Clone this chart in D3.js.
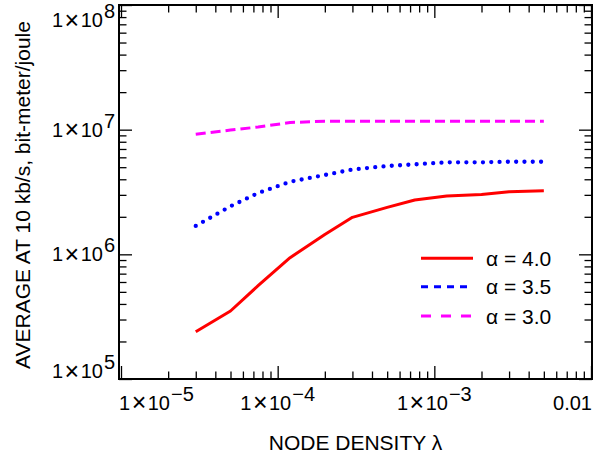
<!DOCTYPE html>
<html>
<head>
<meta charset="utf-8">
<script src="https://cdn.jsdelivr.net/npm/d3@7"></script>
<style>
  body { margin: 0; background: #fff; }
  svg text { font-family: "Liberation Sans", Arial, sans-serif; fill: #000; }
</style>
</head>
<body>
<div id="chart"></div>
<script>
/*  *****  DATA  *****  */

// node density (x) shared by all three curves
var lambda = [3e-5, 5e-5, 7.5e-5, 1.2e-4, 2e-4, 3e-4, 5e-4, 7.5e-4, 1.2e-3, 2e-3, 3e-3, 5e-3];

// average at 10 kb/s, bit-meter/joule
var alpha40 = [2.39e5, 3.51e5, 5.6e5, 9.4e5, 1.44e6, 1.98e6, 2.38e6, 2.73e6, 2.94e6, 3.02e6, 3.18e6, 3.24e6];
var alpha35 = [1.69e6, 2.43e6, 3.10e6, 3.82e6, 4.33e6, 4.79e6, 5.11e6, 5.27e6, 5.47e6, 5.47e6, 5.53e6, 5.53e6];
var alpha30 = [9.18e6, 9.93e6, 1.05e7, 1.14e7, 1.17e7, 1.17e7, 1.17e7, 1.17e7, 1.17e7, 1.17e7, 1.17e7, 1.17e7];

var seriesNames = ["α = 4.0", "α = 3.5", "α = 3.0"];

// tick labels, "^" marks the superscript
var xTickValues = [1e-5, 1e-4, 1e-3, 1e-2];
var xTickLabels = ["1×10^−5", "1×10^−4", "1×10^−3", "0.01"];
var yTickValues = [1e5, 1e6, 1e7, 1e8];
var yTickLabels = ["1×10^5", "1×10^6", "1×10^7", "1×10^8"];

/*  *****  SETUP  *****  */

var W = 606, H = 457;
var frame = { left: 119, right: 592, top: 5, bottom: 379 };

var svg = d3.select("#chart").append("svg")
    .attr("width", W)
    .attr("height", H);

var xScale = d3.scaleLog().domain([1e-5, 1e-2]).range([121, 591]);
var yScale = d3.scaleLog().domain([1e5, 1e8]).range([frame.bottom, frame.top]);

// minor ticks 2..9 inside every decade
function minorTicks(domain) {
  var out = [];
  for (var d = domain[0]; d < domain[1] * 0.99; d *= 10) {
    for (var k = 2; k <= 9; k++) out.push(k * d);
  }
  return out;
}
var xMinor = minorTicks(xScale.domain());
var yMinor = minorTicks(yScale.domain());

/*  *****  AXES (inward ticks on all four sides)  *****  */

var majorLen = 13, minorLen = 7.5;

function styleAxis(g) {
  g.select(".domain").remove();
  g.selectAll(".tick line").attr("stroke", "#000").attr("stroke-width", 1.3);
  g.selectAll(".tick text").remove();
}

[[xTickValues, majorLen], [xMinor, minorLen]].forEach(function(t) {
  svg.append("g")
    .attr("transform", "translate(0," + frame.bottom + ")")
    .call(d3.axisBottom(xScale).tickValues(t[0]).tickSize(-t[1]).tickFormat(""))
    .call(styleAxis);
  svg.append("g")
    .attr("transform", "translate(0," + frame.top + ")")
    .call(d3.axisTop(xScale).tickValues(t[0]).tickSize(-t[1]).tickFormat(""))
    .call(styleAxis);
});

[[yTickValues, majorLen], [yMinor, minorLen]].forEach(function(t) {
  svg.append("g")
    .attr("transform", "translate(" + frame.left + ",0)")
    .call(d3.axisLeft(yScale).tickValues(t[0]).tickSize(-t[1]).tickFormat(""))
    .call(styleAxis);
  svg.append("g")
    .attr("transform", "translate(" + frame.right + ",0)")
    .call(d3.axisRight(yScale).tickValues(t[0]).tickSize(-t[1]).tickFormat(""))
    .call(styleAxis);
});

// frame
svg.append("rect")
  .attr("x", frame.left)
  .attr("y", frame.top)
  .attr("width", frame.right - frame.left)
  .attr("height", frame.bottom - frame.top)
  .attr("fill", "none")
  .attr("stroke", "#000")
  .attr("stroke-width", 2);

// write "1×10^-5" style labels: a roomier "×" and a real superscript
function writeLabel(text, label) {
  var parts = label.split("^");
  var base = parts[0].split("×");
  text.append("tspan").text(base[0]);
  if (base.length > 1) {
    text.append("tspan")
      .attr("dx", 1.5)
      .attr("dy", 1.5)
      .style("font-size", "25px")
      .text("×");
    text.append("tspan")
      .attr("dx", 1.5)
      .attr("dy", -1.5)
      .text(base[1]);
  }
  if (parts.length > 1) {
    text.append("tspan")
      .attr("dy", -9)
      .attr("dx", 1)
      .style("font-size", "20px")
      .text(parts[1]);
  }
}

// x tick labels, kept inside the frame at both ends
xTickValues.forEach(function(v, i) {
  var t = svg.append("text")
    .attr("y", 409.5)
    .style("font-size", "20px");
  writeLabel(t, xTickLabels[i]);
  var w = t.node().getBBox().width;
  var x0 = xScale(v) - w / 2;
  x0 = Math.max(frame.left, Math.min(frame.right - w, x0));
  t.attr("x", x0);
});

// y tick labels, also kept inside the frame height
yTickValues.forEach(function(v, i) {
  var base = Math.max(frame.top + 22, Math.min(frame.bottom - 1, yScale(v) + 7));
  var t = svg.append("text")
    .attr("x", 115)
    .attr("y", base)
    .attr("text-anchor", "end")
    .style("font-size", "20px");
  writeLabel(t, yTickLabels[i]);
});

// axis titles
svg.append("text")
  .attr("x", (frame.left + frame.right) / 2)
  .attr("y", 450)
  .attr("text-anchor", "middle")
  .style("font-size", "21px")
  .text("NODE DENSITY λ");

svg.append("text")
  .attr("transform", "translate(30," + ((frame.top + frame.bottom) / 2 + 3) + ") rotate(-90)")
  .attr("text-anchor", "middle")
  .style("font-size", "21px")
  .text("AVERAGE AT 10 kb/s, bit-meter/joule");

/*  *****  LINES  *****  */

var series = [
  { name: seriesNames[0], values: alpha40, color: "#ff0000", width: 3, dash: null, cap: "butt", legendDash: null },
  { name: seriesNames[1], values: alpha35, color: "#0000ff", width: 4.3, dash: "0,8.3", cap: "round", legendDash: "7,6" },
  { name: seriesNames[2], values: alpha30, color: "#ff00ff", width: 3, dash: "10,5", cap: "butt", legendDash: "10,10" }
];

var line = d3.line()
  .x(function(d) { return xScale(d[0]); })
  .y(function(d) { return yScale(d[1]); });

series.slice().reverse().forEach(function(s) {
  svg.append("path")
    .datum(lambda.map(function(l, i) { return [l, s.values[i]]; }))
    .attr("d", line)
    .attr("fill", "none")
    .attr("stroke", s.color)
    .attr("stroke-width", s.width)
    .attr("stroke-linecap", s.cap)
    .attr("stroke-linejoin", "round")
    .attr("stroke-dasharray", s.dash);
});

/*  *****  LEGEND  *****  */

var legendRows = [258.3, 286.7, 316];
series.forEach(function(s, i) {
  var g = svg.append("g").attr("transform", "translate(0," + legendRows[i] + ")");
  g.append("line")
    .attr("x1", 421).attr("x2", 473)
    .attr("stroke", s.color)
    .attr("stroke-width", 3)
    .attr("stroke-dasharray", s.legendDash);
  g.append("text")
    .attr("x", 486)
    .attr("y", 7.5)
    .style("font-size", "21px")
    .text(s.name);
});
</script>
</body>
</html>
